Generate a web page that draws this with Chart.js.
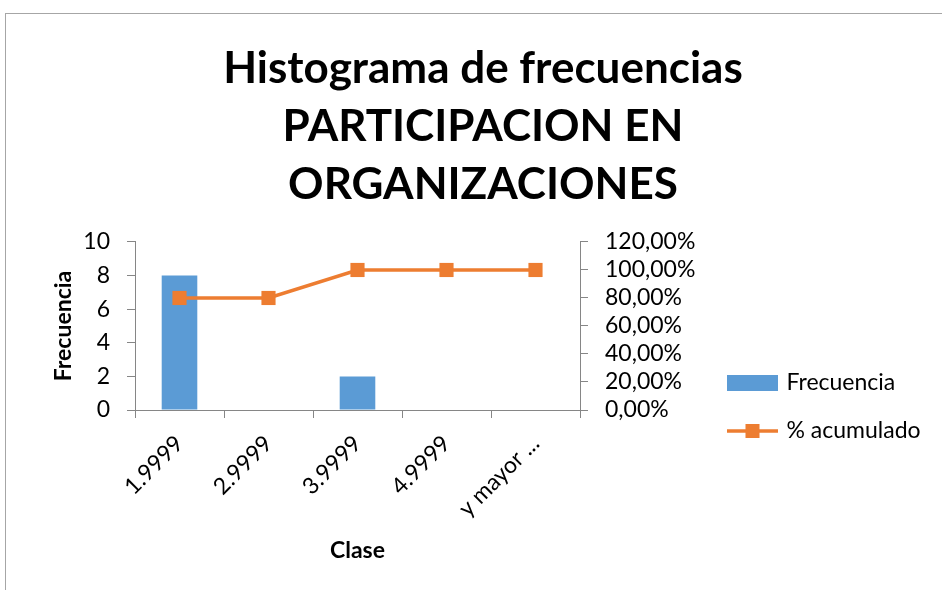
<!DOCTYPE html>
<html>
<head>
<meta charset="utf-8">
<script src="https://cdn.jsdelivr.net/npm/chart.js@4/dist/chart.umd.min.js"></script>
<style>
  html, body { margin: 0; padding: 0; background: #fff; overflow: hidden; }
  #wrap { position: relative; width: 942px; height: 590px; }
  #frame { position: absolute; left: 5px; top: 13px; width: 1000px; height: 700px;
           border-left: 1px solid #a6a6a6; border-top: 1px solid #a6a6a6; box-sizing: border-box; }
  canvas { position: absolute; left: 0; top: 0; }
</style>
</head>
<body>
<div id="wrap">
  <div id="frame"></div>
  <canvas id="c" width="942" height="590"></canvas>
</div>
<script>
const titleLines = ['Histograma de frecuencias', 'PARTICIPACION EN', 'ORGANIZACIONES'];
const categories = ['1.9999', '2.9999', '3.9999', '4.9999', 'y mayor ...'];
const frecuencia = [8, 0, 2, 0, 0];
const acumulado = [80, 80, 100, 100, 100];
const yTicksLeft = [0, 2, 4, 6, 8, 10];
const yTicksRight = [0, 20, 40, 60, 80, 100, 120];
const seriesNames = ['Frecuencia', '% acumulado'];
const xTitle = 'Clase';
const yTitle = 'Frecuencia';

const BLUE = '#5B9BD5';
const ORANGE = '#ED7D31';
const AXIS = '#868686';
const FONT = 'Lato';

function makeIcon(kind) {
  const cv = document.createElement('canvas');
  cv.width = 51; cv.height = 16;
  const g = cv.getContext('2d');
  if (kind === 'bar') {
    g.fillStyle = BLUE;
    g.fillRect(0, 0, 51, 16);
  } else {
    g.strokeStyle = ORANGE;
    g.lineWidth = 3.5;
    g.beginPath(); g.moveTo(0, 8); g.lineTo(51, 8); g.stroke();
    g.fillStyle = ORANGE;
    g.fillRect(18.5, 1, 14, 14);
  }
  return cv;
}
const icons = [makeIcon('bar'), makeIcon('line')];

const legendPlacer = {
  id: 'legendPlacer',
  afterLayout(chart) {
    const lg = chart.legend;
    if (!lg) return;
    lg.left = 705; lg.right = 942; lg.width = 237;
    lg.top = 346.5; lg.bottom = 590; lg.height = 590 - 346.5;
  }
};

new Chart(document.getElementById('c'), {
  type: 'bar',
  data: {
    labels: categories,
    datasets: [
      {
        type: 'bar',
        label: seriesNames[0],
        data: frecuencia,
        yAxisID: 'y',
        backgroundColor: BLUE,
        borderWidth: 0,
        barPercentage: 0.4,
        categoryPercentage: 1,
        order: 2
      },
      {
        type: 'line',
        label: seriesNames[1],
        data: acumulado,
        yAxisID: 'y1',
        borderColor: ORANGE,
        backgroundColor: ORANGE,
        borderWidth: 3.5,
        pointStyle: 'rect',
        pointRadius: 10,
        pointBorderWidth: 0,
        pointBackgroundColor: ORANGE,
        tension: 0,
        order: 1
      }
    ]
  },
  options: {
    responsive: false,
    animation: false,
    events: [],
    layout: { padding: { left: 24, right: 0, top: 0, bottom: 0 } },
    plugins: {
      title: {
        display: true,
        text: titleLines,
        color: '#000',
        font: { family: FONT, size: 44, weight: 'bold', lineHeight: 1.318 },
        padding: { top: 40, bottom: 28 }
      },
      legend: {
        display: true,
        position: 'chartArea',
        align: 'start',
        labels: {
          color: '#000',
          font: { family: FONT, size: 23 },
          usePointStyle: true,
          pointStyleWidth: 45,
          boxHeight: 16,
          padding: 25,
          generateLabels() {
            return seriesNames.map((n, i) => ({
              text: n,
              pointStyle: icons[i],
              fillStyle: i === 0 ? BLUE : ORANGE,
              strokeStyle: i === 0 ? BLUE : ORANGE,
              lineWidth: 0,
              hidden: false,
              datasetIndex: i
            }));
          }
        }
      },
      tooltip: { enabled: false }
    },
    scales: {
      x: {
        offset: true,
        grid: { display: true, drawOnChartArea: false, drawTicks: true, tickLength: 8, color: AXIS, offset: true },
        border: { display: true, color: AXIS, width: 1 },
        ticks: { color: '#000', font: { family: FONT, size: 23 }, minRotation: 45, maxRotation: 45, padding: 12, autoSkip: false },
        title: { display: true, text: xTitle, color: '#000', font: { family: FONT, size: 23, weight: 'bold' }, padding: { top: 0, bottom: 26 } },
        afterFit(s) { s.height = 180; }
      },
      y: {
        position: 'left',
        min: 0, max: 10,
        afterBuildTicks(s) { s.ticks = yTicksLeft.map(v => ({ value: v })); },
        grid: { display: true, drawOnChartArea: false, drawTicks: true, tickLength: 8, color: AXIS },
        border: { display: true, color: AXIS, width: 1 },
        ticks: { color: '#000', font: { family: FONT, size: 23 }, padding: 17, autoSkip: false },
        title: { display: true, text: yTitle, color: '#000', font: { family: FONT, size: 23, weight: 'bold' }, padding: { top: 26, bottom: 0 } },
        afterFit(s) { s.width = 111; }
      },
      y1: {
        position: 'right',
        min: 0, max: 120,
        afterBuildTicks(s) { s.ticks = yTicksRight.map(v => ({ value: v })); },
        grid: { display: true, drawOnChartArea: false, drawTicks: true, tickLength: 8, color: AXIS },
        border: { display: true, color: AXIS, width: 1 },
        ticks: { color: '#000', font: { family: FONT, size: 23 }, padding: 17, autoSkip: false,
                 callback: v => v.toFixed(2).replace('.', ',') + '%' },
        afterFit(s) { s.width = 362; }
      }
    }
  },
  plugins: [legendPlacer]
});
</script>
</body>
</html>
